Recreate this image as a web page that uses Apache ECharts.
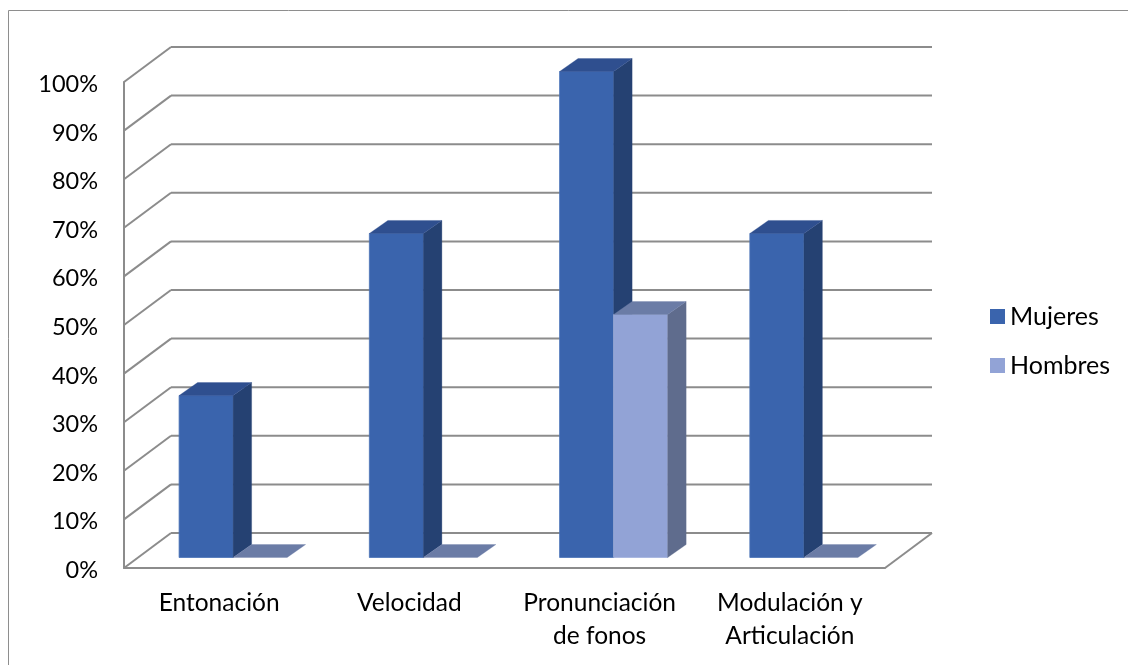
<!DOCTYPE html>
<html>
<head>
<meta charset="utf-8">
<style>html,body{margin:0;padding:0;background:#fff}#c{width:1128px;height:665px}</style>
<script src="https://cdn.jsdelivr.net/npm/echarts@6/dist/echarts.min.js"></script>
</head>
<body>
<div id="c"></div>
<script>
const categories = ['Entonación', 'Velocidad', 'Pronunciación\nde fonos', 'Modulación y\nArticulación'];
const mujeres = [33.33, 66.67, 100, 66.67];
const hombres = [0, 0, 50, 0];
const yTicks = [0, 10, 20, 30, 40, 50, 60, 70, 80, 90, 100];

const FONT = 'Lato';
const TEXT = '#000';
const WALL = '#8c8c8c';
const wall = { x: 47, y: -35 };     // floor depth of the 3D box
const inset = { x: 14, y: -10.5 };  // bars stand part way into the box
const depth = { x: 18.5, y: -13 };  // depth of a bar
const barFrac = 0.284;              // bar width as a share of the category

const chart = echarts.init(document.getElementById('c'), null, { renderer: 'canvas' });

function poly(points, fill, stroke) {
  return { type: 'polygon', shape: { points: points },
    style: { fill: fill, stroke: stroke || fill, lineWidth: stroke ? 0.8 : 0.3 } };
}

function barRenderer(side, colors) {
  return function (params, api) {
    const i = api.value(0), v = api.value(1);
    const base = api.coord([i, 0]);
    const top = api.coord([i, v]);
    const w = api.size([1, 0])[0] * barFrac;
    const x0 = base[0] + inset.x + (side === 0 ? -w : 0);
    const x1 = x0 + w;
    const yB = base[1] + inset.y;
    const yT = top[1] + inset.y;
    const dx = depth.x, dy = depth.y;
    const children = [];
    if (v > 0) {
      children.push(poly([[x0, yB], [x1, yB], [x1, yT], [x0, yT]], colors.front, colors.edge));
      children.push(poly([[x1, yB], [x1 + dx, yB + dy], [x1 + dx, yT + dy], [x1, yT]], colors.side));
    }
    children.push(poly([[x0, yT], [x1, yT], [x1 + dx, yT + dy], [x0 + dx, yT + dy]], colors.top));
    return { type: 'group', children: children };
  };
}

function frameRenderer(params, api) {
  const v = api.value(0);
  const cs = params.coordSys;
  const y = api.coord([0, v])[1];
  const xL = cs.x, xR = cs.x + cs.width;
  const line = { stroke: WALL, lineWidth: 2 };
  const children = [
    { type: 'line', shape: { x1: xL, y1: y, x2: xL + wall.x, y2: y + wall.y }, style: line },
    { type: 'line', shape: { x1: xL + wall.x, y1: y + wall.y, x2: xR + wall.x, y2: y + wall.y }, style: line }
  ];
  if (v === 0) {
    children.push({ type: 'line', shape: { x1: xR, y1: y, x2: xR + wall.x, y2: y + wall.y }, style: line });
  }
  return { type: 'group', children: children };
}

const colM = { front: '#3A64AD', side: '#254172', top: '#2F4F8F', edge: '#4A73B8' };
const colH = { front: '#92A3D6', side: '#5F6C8D', top: '#6B7CA6', edge: '#A3B2DE' };

chart.setOption({
  animation: false,
  backgroundColor: '#fff',
  graphic: [{
    type: 'rect', silent: true, z: -1,
    shape: { x: 8.5, y: 10.5, width: 1300, height: 900 },
    style: { fill: 'none', stroke: '#8e8e8e', lineWidth: 1 }
  }],
  grid: { left: 124, top: 82, width: 761, height: 486, containLabel: false },
  legend: {
    orient: 'vertical', left: 990, top: 304, padding: 0, itemWidth: 15, itemHeight: 15, itemGap: 24,
    icon: 'rect', selectedMode: false,
    textStyle: { fontFamily: FONT, fontSize: 25, color: TEXT, lineHeight: 25 },
    data: ['Mujeres', 'Hombres']
  },
  xAxis: {
    type: 'category', data: categories,
    axisLine: { lineStyle: { color: WALL, width: 2 } },
    axisTick: { show: false },
    axisLabel: { fontFamily: FONT, fontSize: 24.5, color: TEXT, lineHeight: 33, margin: 19, interval: 0 }
  },
  yAxis: {
    type: 'value', min: 0, max: 100, interval: 10,
    axisLine: { show: true, lineStyle: { color: WALL, width: 2 } },
    axisTick: { show: false },
    splitLine: { show: false },
    axisLabel: { fontFamily: FONT, fontSize: 23.5, color: TEXT, margin: 26, verticalAlign: 'top', lineHeight: 5, formatter: '{value}%' }
  },
  series: [
    { type: 'custom', name: 'frame', z: 1, clip: false, silent: true,
      data: yTicks.map(v => [v]), encode: { y: 0 }, renderItem: frameRenderer },
    { type: 'custom', name: 'Mujeres', z: 2, clip: false, itemStyle: { color: colM.front },
      data: mujeres.map((v, i) => [i, v]), encode: { x: 0, y: 1 }, renderItem: barRenderer(0, colM) },
    { type: 'custom', name: 'Hombres', z: 3, clip: false, itemStyle: { color: colH.front },
      data: hombres.map((v, i) => [i, v]), encode: { x: 0, y: 1 }, renderItem: barRenderer(1, colH) }
  ]
});
</script>
</body>
</html>
